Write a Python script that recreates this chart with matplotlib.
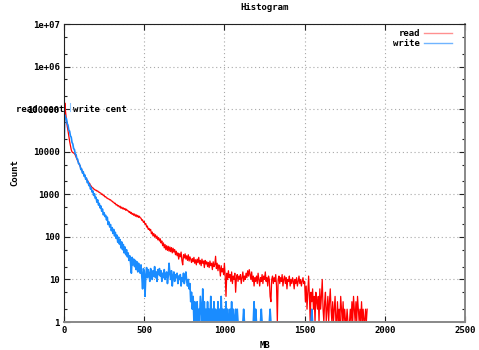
import numpy as np
import matplotlib
matplotlib.use("Agg")
import matplotlib.pyplot as plt
from matplotlib.lines import Line2D
from matplotlib.ticker import LogLocator, NullFormatter

# ---- data (histogram counts, 5 MB bins) ----
bin_mb = 5
read_counts = [
    10000, 140000, 85000, 56000, 40000, 31000, 23000, 17500, 14000, 11200, 9900, 9600, 9300, 9100, 8400, 7500, 6800, 6100, 5700, 5000,
    4650, 4100, 3780, 3350, 3180, 2880, 2690, 2420, 2330, 2120, 2020, 1850, 1790, 1620, 1550, 1440, 1420, 1330, 1310, 1250,
    1250, 1190, 1200, 1130, 1120, 1080, 1060, 990, 1010, 930, 940, 870, 880, 820, 815, 780, 775, 740, 745, 700,
    690, 655, 650, 605, 615, 560, 575, 530, 545, 500, 525, 470, 500, 455, 480, 440, 465, 420, 445, 410,
    410, 380, 395, 355, 375, 335, 355, 320, 345, 305, 330, 295, 320, 285, 305, 280, 275, 245, 250, 220,
    230, 200, 205, 170, 180, 150, 158, 140, 150, 118, 130, 105, 120, 100, 112, 92, 104, 85, 96, 80,
    90, 72, 80, 62, 72, 55, 66, 50, 62, 48, 60, 46, 58, 45, 56, 42, 54, 44, 50, 38,
    46, 36, 42, 30, 40, 34, 44, 28, 22, 38, 32, 40, 30, 36, 28, 38, 27, 34, 30, 25,
    31, 26, 33, 24, 29, 22, 30, 25, 33, 23, 28, 21, 30, 24, 27, 19, 28, 23, 26, 20,
    25, 19, 27, 21, 24, 17, 26, 20, 22, 35, 18, 24, 16, 22, 19, 12, 21, 15, 18, 13,
    24, 12, 4, 14, 10, 16, 11, 13, 9, 15, 8, 12, 10, 14, 5, 11, 13, 9, 12, 10,
    13, 8, 11, 15, 9, 12, 10, 14, 11, 16, 12, 17, 13, 10, 15, 9, 12, 7, 11, 9,
    12, 8, 14, 10, 7, 11, 9, 13, 8, 12, 10, 15, 9, 11, 7, 12, 10, 4, 3, 10,
    12, 8, 11, 9, 13, 7, 1, 10, 12, 8, 11, 9, 13, 7, 10, 12, 8, 11, 6, 10,
    9, 12, 7, 10, 8, 11, 9, 6, 10, 8, 11, 7, 9, 12, 8, 10, 7, 9, 11, 8,
    9, 3, 7, 2, 5, 12, 4, 1, 5, 3, 6, 2, 4, 1, 5, 3, 2, 4, 1, 6,
    2, 4, 10, 2, 1, 3, 5, 1, 2, 4, 1, 3, 6, 2, 1, 3, 1, 2, 4, 1,
    1, 3, 1, 2, 1, 4, 2, 1, 3, 1, 2, 1, 1, 2, 1, 1, 1, 2, 1, 3,
    1, 4, 2, 1, 3, 1, 4, 2, 1, 2, 1, 3, 1, 2, 1, 1, 2, 1, 2,
]
write_counts = [
    10000, 73000, 62000, 60000, 46000, 42000, 32000, 30500, 23500, 22000, 16500, 15200, 11800, 11300, 8800, 8600, 6900, 6700, 5300, 5200,
    4700, 3800, 3950, 3150, 3400, 2650, 2850, 2250, 2400, 1880, 2000, 1600, 1700, 1330, 1450, 1130, 1200, 940, 1030, 800,
    850, 650, 740, 560, 610, 480, 530, 400, 450, 330, 370, 300, 320, 250, 290, 195, 225, 170, 195, 140,
    165, 120, 150, 105, 128, 92, 110, 75, 98, 68, 86, 55, 76, 50, 66, 42, 58, 38, 50, 34,
    42, 28, 36, 24, 14, 33, 22, 30, 20, 28, 17, 26, 15, 24, 19, 14, 22, 12, 6, 18,
    16, 4, 12, 19, 11, 17, 13, 9, 18, 14, 10, 16, 12, 20, 11, 15, 9, 17, 13, 18,
    12, 16, 9, 14, 11, 17, 10, 13, 15, 8, 12, 24, 14, 10, 16, 7, 12, 15, 9, 13,
    11, 14, 8, 12, 10, 13, 7, 11, 9, 14, 8, 12, 15, 9, 7, 10, 6, 8, 3, 5,
    2, 4, 1, 3, 2, 1, 3, 1, 2, 1, 4, 2, 1, 6, 1, 3, 1, 2, 1, 3,
    1, 2, 1, 4, 1, 2, 1, 3, 1, 2, 1, 1, 3, 1, 2, 1, 4, 1, 2, 1,
    2, 1, 3, 1, 2, 1, 1, 2, 1, 3, 1, 2, 1, 1, 2, 1, 2, 1, 1, 1,
    1, 1, 1, 1, 2, 1, 1, 1, 1, 1, 1, 1, 1, 1, 1, 1, 1, 3, 1, 2,
    1, 1, 1, 1, 1, 1, 2, 1, 1, 1, 1, 1, 1, 1, 1, 1, 1, 2, 1, 1,
    1, 1, 1, 1, 1, 1, 1, 1, 1, 1, 1, 1, 1, 1, 1, 1, 1, 1, 1, 1,
    1, 1, 1, 1, 1, 1, 1, 1, 1, 1, 1, 1, 1, 1, 1, 1, 1, 1, 1, 1,
    1, 1, 1, 1, 1, 1, 1, 1, 1, 2, 1,
]
series_names = ["read", "write"]
read_cent_mb = 0
write_cent_mb = 37
label_y = 100000
x_ticks = [0, 500, 1000, 1500, 2000, 2500]
y_ticks = [1, 10, 100, 1000, 10000, 100000, 1e6, 1e7]
y_tick_labels = ["1", "10", "100", "1000", "10000", "100000", "1e+06", "1e+07"]

# ---- figure ----
FONT = dict(family="DejaVu Sans Mono", weight="bold", size=6.5)
plt.rcParams["font.family"] = "DejaVu Sans Mono"

fig = plt.figure(figsize=(4.79, 3.5), dpi=100)
ax = fig.add_axes([64 / 479, 1 - 322 / 350, (465 - 64) / 479, (322 - 24) / 350])

RED = "#ff0000"
BLUE = "#1a8cff"

rx = np.arange(len(read_counts)) * bin_mb
wx = np.arange(len(write_counts)) * bin_mb
ax.plot(rx, read_counts, color=RED, lw=0.9, zorder=3)
ax.plot(wx, write_counts, color=BLUE, lw=1.2, zorder=4)

# centroid markers + labels
ax.plot([write_cent_mb, write_cent_mb], [90000, 140000], color="#8cc4ff", lw=0.8, zorder=4)
ax.text(read_cent_mb, label_y, "read cent", ha="right", va="center", fontdict=FONT, zorder=6)
ax.text(write_cent_mb + 18, label_y, "write cent", ha="left", va="center", fontdict=FONT, zorder=6)

ax.set_yscale("log")
ax.set_xlim(0, 2500)
ax.set_ylim(1, 1e7)
ax.set_xticks(x_ticks)
ax.set_xticklabels([str(v) for v in x_ticks], fontdict=FONT)
ax.set_yticks(y_ticks)
ax.set_yticklabels(y_tick_labels, fontdict=FONT)
ax.yaxis.set_minor_locator(LogLocator(base=10, subs=(2.0, 5.0), numticks=20))
ax.yaxis.set_minor_formatter(NullFormatter())

ax.tick_params(which="both", direction="in", top=True, right=True, colors="#222222", width=0.8)
ax.tick_params(which="major", length=4, pad=3)
ax.tick_params(which="minor", length=2)
for lbl in ax.get_xticklabels() + ax.get_yticklabels():
    lbl.set_color("black")

ax.grid(True, which="major", color="#a8a8a8", linestyle=(0, (1, 2.5)), lw=0.8, zorder=1)
ax.set_axisbelow(True)

for s in ["left", "top"]:
    ax.spines[s].set_color("#222222")
    ax.spines[s].set_linewidth(0.8)
for s in ["right", "bottom"]:
    ax.spines[s].set_color("#888888")
    ax.spines[s].set_linewidth(1.4)
for s in ax.spines.values():
    s.set_zorder(5)

ax.set_title("Histogram", fontdict=FONT, pad=10)
ax.set_xlabel("MB", fontdict=FONT, labelpad=4)
ax.set_ylabel("Count", fontdict=FONT, labelpad=6)

handles = [Line2D([], [], color="#ff9090", lw=1.0), Line2D([], [], color="#70b4ff", lw=1.0)]
leg = ax.legend(handles, series_names, loc="upper right", frameon=False, markerfirst=False,
                prop=dict(family="DejaVu Sans Mono", weight="bold", size=6.5),
                handlelength=3.0, handletextpad=0.5, labelspacing=0.1,
                borderaxespad=0.2, bbox_to_anchor=(0.98, 1.0))

fig.savefig("out.png", dpi=100)
